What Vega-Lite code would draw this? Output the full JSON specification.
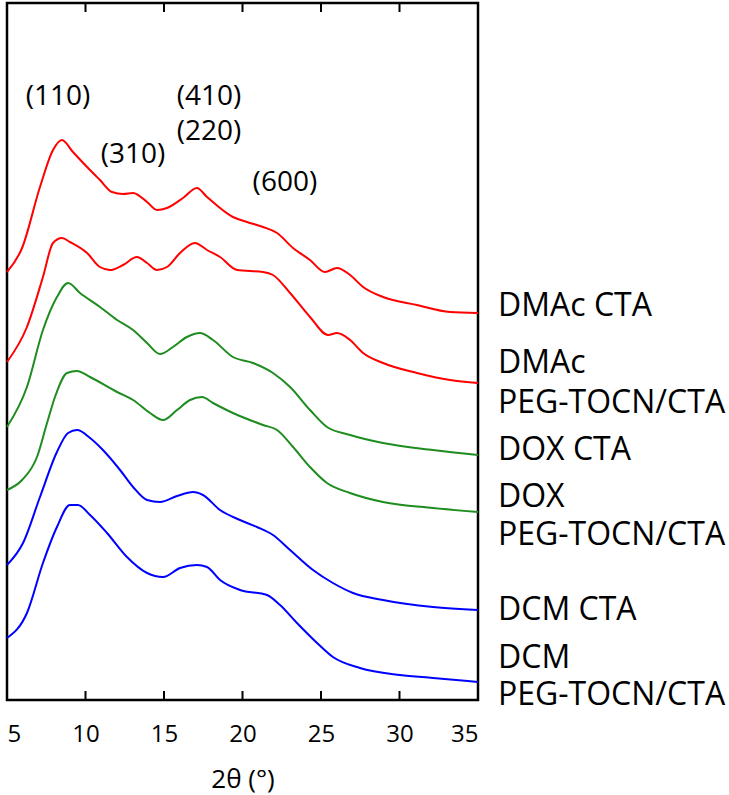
{
  "$schema": "https://vega.github.io/schema/vega-lite/v6.json",
  "width": 471,
  "height": 697,
  "autosize": {"type": "none"},
  "padding": {"left": 7, "top": 3, "right": 251, "bottom": 95},
  "background": "white",
  "config": {
    "view": {"stroke": "black", "strokeWidth": 2.5},
    "font": "Open Sans",
    "axis": {"grid": false}
  },
  "datasets": {
    "curves": [
      {"s": "DMAc CTA", "x": 5.0, "y": 428}, {"s": "DMAc CTA", "x": 5.96, "y": 452}, {"s": "DMAc CTA", "x": 7.1, "y": 513}, {"s": "DMAc CTA", "x": 7.93, "y": 550}, {"s": "DMAc CTA", "x": 8.5, "y": 560}, {"s": "DMAc CTA", "x": 9.2, "y": 548}, {"s": "DMAc CTA", "x": 10.1, "y": 533}, {"s": "DMAc CTA", "x": 10.92, "y": 520}, {"s": "DMAc CTA", "x": 11.69, "y": 508}, {"s": "DMAc CTA", "x": 12.4, "y": 506}, {"s": "DMAc CTA", "x": 13.03, "y": 507}, {"s": "DMAc CTA", "x": 13.92, "y": 498}, {"s": "DMAc CTA", "x": 14.55, "y": 490}, {"s": "DMAc CTA", "x": 15.19, "y": 492}, {"s": "DMAc CTA", "x": 16.21, "y": 502}, {"s": "DMAc CTA", "x": 17.1, "y": 512}, {"s": "DMAc CTA", "x": 17.74, "y": 503}, {"s": "DMAc CTA", "x": 19.39, "y": 483}, {"s": "DMAc CTA", "x": 20.29, "y": 478}, {"s": "DMAc CTA", "x": 21.31, "y": 473}, {"s": "DMAc CTA", "x": 22.2, "y": 467}, {"s": "DMAc CTA", "x": 23.22, "y": 452}, {"s": "DMAc CTA", "x": 24.3, "y": 440}, {"s": "DMAc CTA", "x": 25.25, "y": 428}, {"s": "DMAc CTA", "x": 26.02, "y": 432}, {"s": "DMAc CTA", "x": 26.85, "y": 425}, {"s": "DMAc CTA", "x": 27.68, "y": 413}, {"s": "DMAc CTA", "x": 28.95, "y": 403}, {"s": "DMAc CTA", "x": 31.11, "y": 395}, {"s": "DMAc CTA", "x": 33.22, "y": 388}, {"s": "DMAc CTA", "x": 35.0, "y": 387},

      {"s": "DMAc PEG", "x": 5.0, "y": 338}, {"s": "DMAc PEG", "x": 6.27, "y": 373}, {"s": "DMAc PEG", "x": 7.29, "y": 423}, {"s": "DMAc PEG", "x": 7.93, "y": 457}, {"s": "DMAc PEG", "x": 8.5, "y": 462}, {"s": "DMAc PEG", "x": 9.01, "y": 458}, {"s": "DMAc PEG", "x": 10.1, "y": 447}, {"s": "DMAc PEG", "x": 10.92, "y": 433}, {"s": "DMAc PEG", "x": 11.56, "y": 430}, {"s": "DMAc PEG", "x": 12.39, "y": 435}, {"s": "DMAc PEG", "x": 13.28, "y": 443}, {"s": "DMAc PEG", "x": 13.92, "y": 437}, {"s": "DMAc PEG", "x": 14.55, "y": 430}, {"s": "DMAc PEG", "x": 15.19, "y": 433}, {"s": "DMAc PEG", "x": 16.02, "y": 447}, {"s": "DMAc PEG", "x": 16.97, "y": 457}, {"s": "DMAc PEG", "x": 17.74, "y": 450}, {"s": "DMAc PEG", "x": 18.57, "y": 443}, {"s": "DMAc PEG", "x": 19.65, "y": 430}, {"s": "DMAc PEG", "x": 21.31, "y": 428}, {"s": "DMAc PEG", "x": 21.94, "y": 425}, {"s": "DMAc PEG", "x": 23.03, "y": 407}, {"s": "DMAc PEG", "x": 24.3, "y": 383}, {"s": "DMAc PEG", "x": 25.45, "y": 365}, {"s": "DMAc PEG", "x": 26.02, "y": 367}, {"s": "DMAc PEG", "x": 26.85, "y": 360}, {"s": "DMAc PEG", "x": 27.68, "y": 347}, {"s": "DMAc PEG", "x": 28.95, "y": 337}, {"s": "DMAc PEG", "x": 31.11, "y": 327}, {"s": "DMAc PEG", "x": 33.22, "y": 320}, {"s": "DMAc PEG", "x": 35.0, "y": 317},

      {"s": "DOX CTA", "x": 5.0, "y": 273}, {"s": "DOX CTA", "x": 6.27, "y": 313}, {"s": "DOX CTA", "x": 7.29, "y": 370}, {"s": "DOX CTA", "x": 8.18, "y": 403}, {"s": "DOX CTA", "x": 8.89, "y": 417}, {"s": "DOX CTA", "x": 9.65, "y": 407}, {"s": "DOX CTA", "x": 10.92, "y": 393}, {"s": "DOX CTA", "x": 12.01, "y": 380}, {"s": "DOX CTA", "x": 13.03, "y": 370}, {"s": "DOX CTA", "x": 13.92, "y": 357}, {"s": "DOX CTA", "x": 14.75, "y": 346}, {"s": "DOX CTA", "x": 15.57, "y": 353}, {"s": "DOX CTA", "x": 16.46, "y": 363}, {"s": "DOX CTA", "x": 17.29, "y": 367}, {"s": "DOX CTA", "x": 18.12, "y": 360}, {"s": "DOX CTA", "x": 19.39, "y": 343}, {"s": "DOX CTA", "x": 20.67, "y": 337}, {"s": "DOX CTA", "x": 21.94, "y": 327}, {"s": "DOX CTA", "x": 23.03, "y": 313}, {"s": "DOX CTA", "x": 24.3, "y": 290}, {"s": "DOX CTA", "x": 25.38, "y": 273}, {"s": "DOX CTA", "x": 26.85, "y": 265}, {"s": "DOX CTA", "x": 28.95, "y": 257}, {"s": "DOX CTA", "x": 32.13, "y": 250}, {"s": "DOX CTA", "x": 35.0, "y": 245},

      {"s": "DOX PEG", "x": 5.0, "y": 210}, {"s": "DOX PEG", "x": 5.96, "y": 220}, {"s": "DOX PEG", "x": 6.91, "y": 243}, {"s": "DOX PEG", "x": 7.55, "y": 277}, {"s": "DOX PEG", "x": 8.1, "y": 305}, {"s": "DOX PEG", "x": 8.82, "y": 327}, {"s": "DOX PEG", "x": 9.46, "y": 329}, {"s": "DOX PEG", "x": 10.29, "y": 323}, {"s": "DOX PEG", "x": 12.01, "y": 308}, {"s": "DOX PEG", "x": 13.03, "y": 300}, {"s": "DOX PEG", "x": 14.11, "y": 287}, {"s": "DOX PEG", "x": 14.94, "y": 280}, {"s": "DOX PEG", "x": 15.83, "y": 290}, {"s": "DOX PEG", "x": 16.66, "y": 300}, {"s": "DOX PEG", "x": 17.42, "y": 303}, {"s": "DOX PEG", "x": 18.12, "y": 297}, {"s": "DOX PEG", "x": 19.39, "y": 287}, {"s": "DOX PEG", "x": 21.31, "y": 275}, {"s": "DOX PEG", "x": 22.2, "y": 270}, {"s": "DOX PEG", "x": 23.22, "y": 253}, {"s": "DOX PEG", "x": 24.3, "y": 233}, {"s": "DOX PEG", "x": 25.38, "y": 217}, {"s": "DOX PEG", "x": 26.85, "y": 207}, {"s": "DOX PEG", "x": 28.95, "y": 198}, {"s": "DOX PEG", "x": 32.13, "y": 192}, {"s": "DOX PEG", "x": 35.0, "y": 188},

      {"s": "DCM CTA", "x": 5.0, "y": 135}, {"s": "DCM CTA", "x": 6.02, "y": 157}, {"s": "DCM CTA", "x": 7.1, "y": 203}, {"s": "DCM CTA", "x": 8.18, "y": 248}, {"s": "DCM CTA", "x": 8.89, "y": 267}, {"s": "DCM CTA", "x": 9.46, "y": 270}, {"s": "DCM CTA", "x": 10.29, "y": 262}, {"s": "DCM CTA", "x": 11.11, "y": 250}, {"s": "DCM CTA", "x": 12.2, "y": 230}, {"s": "DCM CTA", "x": 13.03, "y": 213}, {"s": "DCM CTA", "x": 13.92, "y": 200}, {"s": "DCM CTA", "x": 14.75, "y": 198}, {"s": "DCM CTA", "x": 15.83, "y": 204}, {"s": "DCM CTA", "x": 16.85, "y": 208}, {"s": "DCM CTA", "x": 17.48, "y": 205}, {"s": "DCM CTA", "x": 18.57, "y": 190}, {"s": "DCM CTA", "x": 19.84, "y": 180}, {"s": "DCM CTA", "x": 20.92, "y": 173}, {"s": "DCM CTA", "x": 21.94, "y": 165}, {"s": "DCM CTA", "x": 23.03, "y": 150}, {"s": "DCM CTA", "x": 24.49, "y": 130}, {"s": "DCM CTA", "x": 25.76, "y": 117}, {"s": "DCM CTA", "x": 27.04, "y": 107}, {"s": "DCM CTA", "x": 28.95, "y": 100}, {"s": "DCM CTA", "x": 32.13, "y": 93}, {"s": "DCM CTA", "x": 35.0, "y": 90},

      {"s": "DCM PEG", "x": 5.0, "y": 62}, {"s": "DCM PEG", "x": 6.27, "y": 87}, {"s": "DCM PEG", "x": 7.29, "y": 137}, {"s": "DCM PEG", "x": 8.18, "y": 173}, {"s": "DCM PEG", "x": 9.01, "y": 195}, {"s": "DCM PEG", "x": 9.52, "y": 195}, {"s": "DCM PEG", "x": 10.29, "y": 185}, {"s": "DCM PEG", "x": 11.37, "y": 167}, {"s": "DCM PEG", "x": 12.64, "y": 143}, {"s": "DCM PEG", "x": 13.92, "y": 127}, {"s": "DCM PEG", "x": 14.94, "y": 123}, {"s": "DCM PEG", "x": 16.02, "y": 132}, {"s": "DCM PEG", "x": 17.1, "y": 135}, {"s": "DCM PEG", "x": 17.74, "y": 133}, {"s": "DCM PEG", "x": 18.57, "y": 120}, {"s": "DCM PEG", "x": 19.84, "y": 110}, {"s": "DCM PEG", "x": 21.56, "y": 105}, {"s": "DCM PEG", "x": 22.39, "y": 95}, {"s": "DCM PEG", "x": 23.47, "y": 77}, {"s": "DCM PEG", "x": 24.75, "y": 57}, {"s": "DCM PEG", "x": 25.76, "y": 43}, {"s": "DCM PEG", "x": 27.48, "y": 32}, {"s": "DCM PEG", "x": 30.03, "y": 25}, {"s": "DCM PEG", "x": 32.13, "y": 22}, {"s": "DCM PEG", "x": 35.0, "y": 18}
    ],
    "bottommarks": [
      {"x": 10, "y": 4.5}, {"x": 15, "y": 4.5}, {"x": 20, "y": 4.5}, {"x": 25, "y": 4.5}, {"x": 30, "y": 4.5}
    ],
    "topmarks": [
      {"x": 10, "y": 688, "y2": 697}, {"x": 15, "y": 688, "y2": 697}, {"x": 20, "y": 688, "y2": 697}, {"x": 25, "y": 688, "y2": 697}, {"x": 30, "y": 688, "y2": 697}
    ],
    "peaks": [
      {"label": "(110)", "x": 8.25, "y": 603},
      {"label": "(310)", "x": 13.03, "y": 545},
      {"label": "(410)", "x": 17.87, "y": 603},
      {"label": "(220)", "x": 17.87, "y": 568},
      {"label": "(600)", "x": 22.7, "y": 517}
    ],
    "names": [
      {"label": "DMAc CTA", "x": 35, "y": 394},
      {"label": "DMAc", "x": 35, "y": 337},
      {"label": "PEG-TOCN/CTA", "x": 35, "y": 297},
      {"label": "DOX CTA", "x": 35, "y": 250},
      {"label": "DOX", "x": 35, "y": 203},
      {"label": "PEG-TOCN/CTA", "x": 35, "y": 165},
      {"label": "DCM CTA", "x": 35, "y": 90},
      {"label": "DCM", "x": 35, "y": 42},
      {"label": "PEG-TOCN/CTA", "x": 35, "y": 5}
    ]
  },
  "layer": [
    {
      "data": {"name": "curves"},
      "mark": {"type": "line", "strokeWidth": 2, "interpolate": "monotone"},
      "encoding": {
        "x": {
          "field": "x", "type": "quantitative",
          "scale": {"domain": [5, 35], "nice": false, "zero": false},
          "axis": {
            "orient": "bottom", "values": [5, 10, 15, 20, 25, 30, 35],
            "domain": false, "ticks": false,
            "labelFontSize": 24, "labelColor": "black", "labelPadding": 22,
            "labelFont": "Open Sans",
            "title": "2θ (°)", "titleFontSize": 26, "titleFontWeight": "normal",
            "titleColor": "black", "titlePadding": 20, "titleFont": "Open Sans"
          }
        },
        "y": {
          "field": "y", "type": "quantitative",
          "scale": {"domain": [0, 697], "nice": false, "zero": false},
          "axis": null
        },
        "detail": {"field": "s"},
        "color": {
          "field": "s", "type": "nominal", "legend": null,
          "scale": {
            "domain": ["DMAc CTA", "DMAc PEG", "DOX CTA", "DOX PEG", "DCM CTA", "DCM PEG"],
            "range": ["#ff0000", "#ff0000", "#1e8c1e", "#1e8c1e", "#0000ff", "#0000ff"]
          }
        }
      }
    },
    {
      "data": {"name": "peaks"},
      "mark": {"type": "text", "fontSize": 28, "font": "Open Sans", "color": "black", "align": "center", "baseline": "middle"},
      "encoding": {
        "x": {"field": "x", "type": "quantitative"},
        "y": {"field": "y", "type": "quantitative"},
        "text": {"field": "label"}
      }
    },
    {
      "data": {"name": "names"},
      "mark": {"type": "text", "fontSize": 32, "font": "Open Sans", "color": "black", "align": "left", "baseline": "middle", "dx": 20, "clip": false},
      "encoding": {
        "x": {"field": "x", "type": "quantitative"},
        "y": {"field": "y", "type": "quantitative"},
        "text": {"field": "label"}
      }
    },
    {
      "data": {"name": "bottommarks"},
      "mark": {"type": "tick", "orient": "vertical", "color": "black", "size": 9, "thickness": 2, "opacity": 1},
      "encoding": {
        "x": {"field": "x", "type": "quantitative"},
        "y": {"field": "y", "type": "quantitative"}
      }
    },
    {
      "data": {"name": "topmarks"},
      "mark": {"type": "rule", "color": "black", "strokeWidth": 2},
      "encoding": {
        "x": {"field": "x", "type": "quantitative"},
        "y": {"field": "y", "type": "quantitative"},
        "y2": {"field": "y2"}
      }
    }
  ]
}
